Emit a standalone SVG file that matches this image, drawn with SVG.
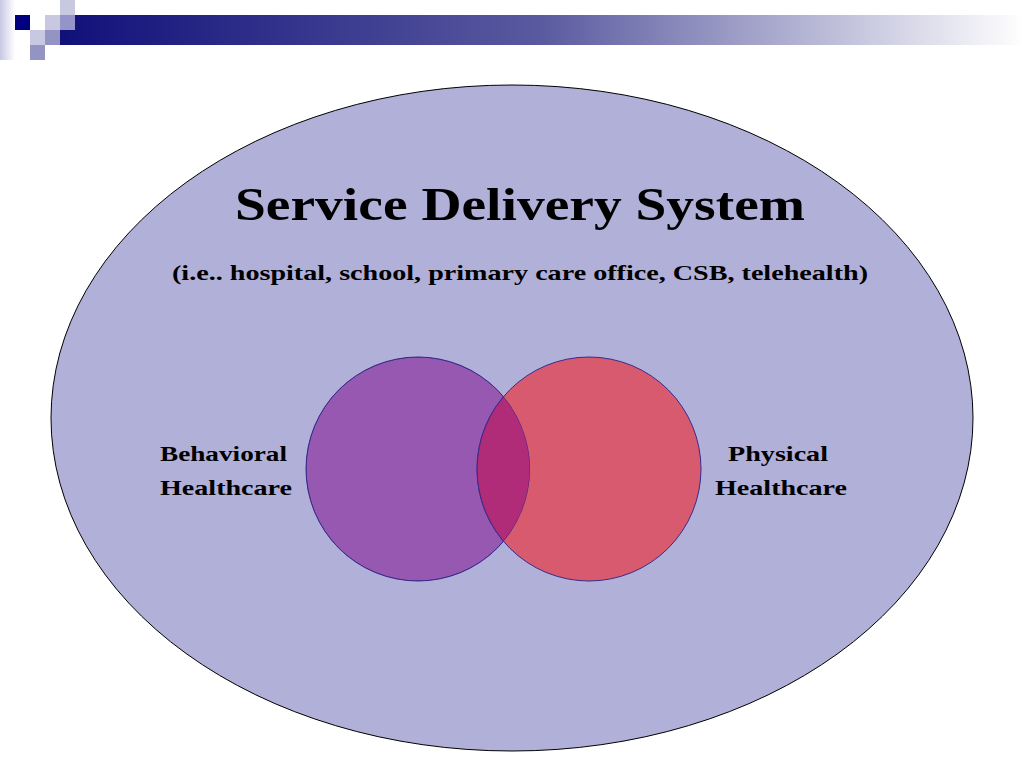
<svg xmlns="http://www.w3.org/2000/svg" width="1024" height="768" viewBox="0 0 1024 768">
<defs><linearGradient id="bar" x1="0" x2="1"><stop offset="0" stop-color="#10107a"/><stop offset="0.5" stop-color="#5a5aa0"/><stop offset="1" stop-color="#ffffff"/></linearGradient>
<linearGradient id="fade" x1="0" x2="1"><stop offset="0" stop-color="#c8c8e4"/><stop offset="1" stop-color="#ffffff"/></linearGradient>
<clipPath id="lc"><circle cx="418" cy="469" r="112"/></clipPath></defs>
<style>text{font-family:"Liberation Serif",serif;font-weight:bold;fill:#000}</style>
<rect width="1024" height="768" fill="#fff"/>
<g id="deco">
<rect x="0" y="0" width="15" height="60" fill="url(#fade)"/>
<rect x="60" y="15" width="964" height="30" fill="url(#bar)"/>
<rect x="15" y="15" width="15" height="15" fill="#000080"/>
<rect x="45" y="15" width="15" height="15" fill="#c8c8e0"/>
<rect x="60" y="0" width="15" height="15" fill="#c8c8e0"/>
<rect x="60" y="15" width="15" height="15" fill="#9494c8"/>
<rect x="30" y="30" width="15" height="15" fill="#c8c8e0"/>
<rect x="45" y="30" width="15" height="15" fill="#9494c4"/>
<rect x="30" y="45" width="15" height="15" fill="#9494c4"/>
</g>
<g id="system"><ellipse cx="512" cy="418" rx="461" ry="333" fill="#b0b0d8" stroke="#000" stroke-width="1"/>
<text x="235" y="220" font-size="46" textLength="570" lengthAdjust="spacingAndGlyphs">Service Delivery System</text>
<text x="172" y="280" font-size="22" textLength="696" lengthAdjust="spacingAndGlyphs">(i.e.. hospital, school, primary care office, CSB, telehealth)</text></g>
<g id="behavioral"><circle cx="418" cy="469" r="112" fill="#9658b0" stroke="#3a2a8a"/>
<text x="160" y="461" font-size="22" textLength="127" lengthAdjust="spacingAndGlyphs">Behavioral</text><text x="160" y="495" font-size="22" textLength="132" lengthAdjust="spacingAndGlyphs">Healthcare</text></g>
<g id="physical"><circle cx="589" cy="469" r="112" fill="#d85a6e" stroke="#3a2a8a"/>
<circle cx="589" cy="469" r="112" fill="#b02c78" clip-path="url(#lc)"/>
<circle cx="418" cy="469" r="112" fill="none" stroke="#3a2a8a" clip-path="url(#lc)"/>
<path d="M589,357 A112,112 0 0 0 589,581" fill="none" stroke="#3a2a8a" clip-path="url(#lc)"/>
<text x="728" y="461" font-size="22" textLength="100" lengthAdjust="spacingAndGlyphs">Physical</text><text x="715" y="495" font-size="22" textLength="132" lengthAdjust="spacingAndGlyphs">Healthcare</text></g>
<g id="connectors"/>
</svg>
